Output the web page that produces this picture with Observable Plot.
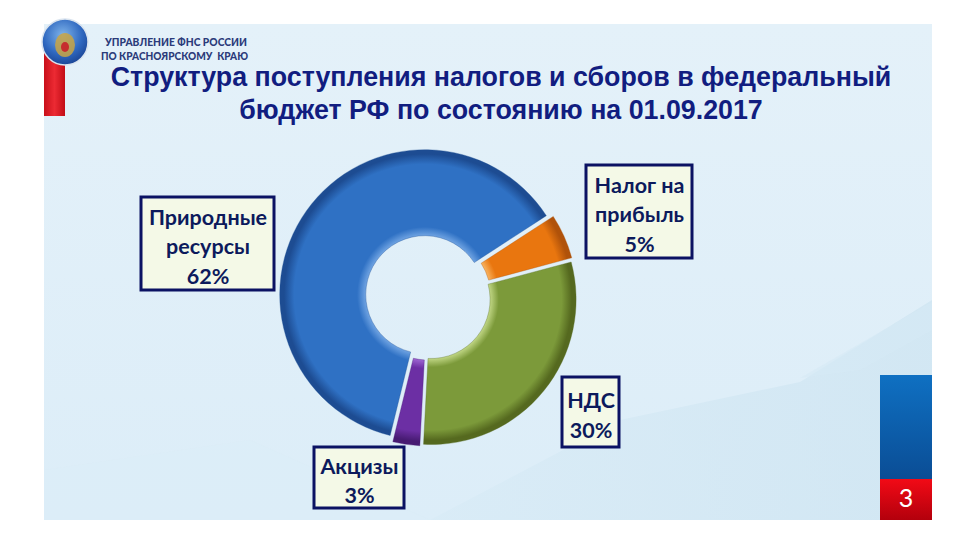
<!DOCTYPE html>
<html>
<head>
<meta charset="utf-8">
<script src="https://cdn.jsdelivr.net/npm/d3@7"></script>
<script src="https://cdn.jsdelivr.net/npm/@observablehq/plot@0.6"></script>
<style>
  html, body { margin: 0; padding: 0; background: #ffffff; }
  #slide { position: relative; width: 960px; height: 540px; overflow: hidden; background: #ffffff; }
  #bg { position: absolute; left: 0; top: 0; }
  #title { position: absolute; left: 40px; top: 61px; width: 922px; text-align: center;
           font-family: "Liberation Sans", Arial, sans-serif; font-weight: 700; font-size: 26.8px;
           line-height: 33px; color: #111d80; white-space: nowrap; }
  #chart { position: absolute; left: 0; top: 0; }
</style>
</head>
<body>
<div id="slide">
  <svg id="bg" width="960" height="540" xmlns="http://www.w3.org/2000/svg">
    <defs>
      <linearGradient id="panelGrad" x1="0" y1="0" x2="0" y2="1">
        <stop offset="0" stop-color="#e4f1f9"/>
        <stop offset="1" stop-color="#dcedf8"/>
      </linearGradient>
      <linearGradient id="wedgeGrad" x1="0" y1="0" x2="1" y2="0">
        <stop offset="0" stop-color="#d8ebf6"/>
        <stop offset="1" stop-color="#cde4f1"/>
      </linearGradient>
      <linearGradient id="redBar" x1="0" y1="0" x2="1" y2="0">
        <stop offset="0" stop-color="#c8101a"/>
        <stop offset="0.5" stop-color="#ec2a33"/>
        <stop offset="1" stop-color="#c20d17"/>
      </linearGradient>
      <radialGradient id="logoGrad" cx="0.45" cy="0.35" r="0.7">
        <stop offset="0" stop-color="#7fb4ea"/>
        <stop offset="0.6" stop-color="#2f68c0"/>
        <stop offset="1" stop-color="#173f8e"/>
      </radialGradient>
      <linearGradient id="pageBlue" x1="0" y1="0" x2="0" y2="1">
        <stop offset="0" stop-color="#0f70c2"/>
        <stop offset="1" stop-color="#0a4d95"/>
      </linearGradient>
      <linearGradient id="pageRed" x1="0" y1="0" x2="0" y2="1">
        <stop offset="0" stop-color="#f20a16"/>
        <stop offset="1" stop-color="#b3000c"/>
      </linearGradient>
    </defs>
    <rect x="44" y="24" width="888" height="496" fill="url(#panelGrad)"/>
    <polygon points="430,520 620,420 800,382 932,300 932,520" fill="url(#wedgeGrad)" opacity="0.7"/>
    <polygon points="800,378 932,302 932,330 860,370" fill="#d6eaf5" opacity="0.6"/>
    <polygon points="44,520 44,470 250,440 430,520" fill="#dbedf7" opacity="0.5"/>
    <!-- logo -->
    <rect x="44" y="52" width="21" height="64" fill="url(#redBar)"/>
    <circle cx="65" cy="42" r="23" fill="url(#logoGrad)" stroke="#d9e3ee" stroke-width="1.5"/>
    <ellipse cx="65" cy="45" rx="10" ry="12" fill="#c9a443" opacity="0.85"/>
    <ellipse cx="65" cy="47" rx="4" ry="5" fill="#c8202a" opacity="0.9"/>
    <!-- header text -->
    <text x="105" y="46" textLength="142" lengthAdjust="spacingAndGlyphs"
          font-family="Lato, 'Open Sans', sans-serif" font-weight="900" font-size="11.5" fill="#2b3b7a">УПРАВЛЕНИЕ ФНС РОССИИ</text>
    <text x="101" y="60" textLength="147" lengthAdjust="spacingAndGlyphs"
          font-family="Lato, 'Open Sans', sans-serif" font-weight="900" font-size="11.5" fill="#2b3b7a">ПО КРАСНОЯРСКОМУ&#160; КРАЮ</text>
    <!-- page number -->
    <rect x="880" y="375" width="52" height="104" fill="url(#pageBlue)"/>
    <rect x="880" y="479" width="52" height="41" fill="url(#pageRed)"/>
    <text x="906" y="507" text-anchor="middle" font-family="Lato, 'Open Sans', sans-serif"
          font-size="25" fill="#ffffff">3</text>
  </svg>
  <div id="title"></div>
  <div id="chart"></div>
</div>
<script>
// ---- data ----
const categories = ["Налог на прибыль", "НДС", "Акцизы", "Природные ресурсы"];
const shares = [5, 30, 3, 62];
const labelLines = ["Налог на\nприбыль", "НДС", "Акцизы", "Природные\nресурсы"];
const titleLines = [
  "Структура поступления налогов и сборов в федеральный",
  "бюджет РФ по состоянию на 01.09.2017"
];

// ---- styles / layout (kept separate from data) ----
const sliceStyles = [
  { base: "#e9760f", light: "#f8b25e", dark: "#b0520a" },
  { base: "#7c9a3a", light: "#c0d684", dark: "#55691f" },
  { base: "#6c2fa4", light: "#9d66d2", dark: "#471b72" },
  { base: "#2f71c4", light: "#6fa3e2", dark: "#1d4c92" }
];
const donut = { cx: 428, cy: 297, rOuter: 145, rInner: 59, explode: 4, startDeg: 57 };
const labelBoxes = [
  { x1: 586, x2: 692, y1: 165, y2: 258 },
  { x1: 562, x2: 619, y1: 377, y2: 447 },
  { x1: 314, x2: 404, y1: 447, y2: 508 },
  { x1: 141, x2: 274, y1: 197, y2: 290 }
];

document.getElementById("title").innerHTML = titleLines.map(t => `<div>${t}</div>`).join("");

const rows = categories.map((c, i) => ({
  category: c,
  share: shares[i],
  label: `${labelLines[i]}\n${shares[i]}%`,
  ...labelBoxes[i]
}));

// Donut slices computed from the shares with d3.pie and rendered inside Plot
function donutMark() {
  const g = d3.create("svg:g");
  const start = donut.startDeg * Math.PI / 180;
  const arcs = d3.pie().sort(null).value(d => d.share).startAngle(start).endAngle(start + 2 * Math.PI)(rows);
  const arc = d3.arc().innerRadius(donut.rInner).outerRadius(donut.rOuter);
  const defs = g.append("defs");
  const fIn = donut.rInner / donut.rOuter;
  arcs.forEach((a, i) => {
    const s = sliceStyles[i];
    const rg = defs.append("radialGradient")
      .attr("id", "slice" + i).attr("gradientUnits", "userSpaceOnUse")
      .attr("cx", 0).attr("cy", 0).attr("r", donut.rOuter);
    [[0, s.light], [fIn, s.light], [fIn + 0.06, s.base], [0.9, s.base], [0.97, s.dark], [1, s.dark]]
      .forEach(([o, c]) => rg.append("stop").attr("offset", o).attr("stop-color", c));
  });
  g.selectAll("path")
    .data(arcs)
    .join("path")
    .attr("transform", a => {
      const m = (a.startAngle + a.endAngle) / 2;
      return `translate(${donut.cx + donut.explode * Math.sin(m)},${donut.cy - donut.explode * Math.cos(m)})`;
    })
    .attr("d", arc)
    .attr("fill", (a, i) => `url(#slice${i})`)
    .attr("stroke", (a, i) => sliceStyles[i].dark)
    .attr("stroke-opacity", 0.35)
    .attr("stroke-width", 1);
  return g.node();
}

const chart = Plot.plot({
  width: 960,
  height: 540,
  margin: 0,
  x: { type: "identity", axis: null },
  y: { type: "identity", axis: null },
  style: { background: "transparent", overflow: "visible" },
  marks: [
    donutMark,
    Plot.rect(rows, {
      x1: "x1", x2: "x2", y1: "y1", y2: "y2",
      fill: "#f4f9e7", stroke: "#0b1263", strokeWidth: 3
    }),
    Plot.text(rows, {
      x: d => (d.x1 + d.x2) / 2,
      y: d => (d.y1 + d.y2) / 2 + 1,
      text: "label",
      fontFamily: "Lato, 'Open Sans', sans-serif",
      fontWeight: 700,
      fontSize: 21.5,
      lineHeight: 1.37,
      fill: "#0c1a5c"
    })
  ]
});
document.getElementById("chart").appendChild(chart);
</script>
</body>
</html>
